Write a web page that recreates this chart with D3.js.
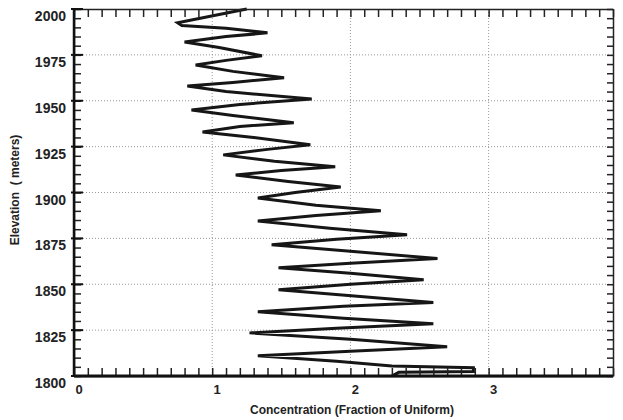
<!DOCTYPE html>
<html>
<head>
<meta charset="utf-8">
<script src="https://cdn.jsdelivr.net/npm/d3@7"></script>
<style>
  body { margin: 0; background: #fff; }
  svg { display: block; }
  .lbl { font-family: "Liberation Sans Narrow", "Liberation Sans", Arial, sans-serif; font-weight: bold; fill: #222; }
</style>
</head>
<body>
<div id="chart"></div>
<script>
// concentration profile, top to bottom
const elevation = [2000, 1997, 1992.5, 1991, 1989.5, 1987, 1985, 1982, 1979, 1974.5,
  1972, 1969.5, 1966, 1962.5, 1960, 1958, 1955, 1951, 1948, 1945,
  1942, 1938, 1936, 1933, 1930, 1926, 1923.5, 1920.5, 1917, 1914,
  1912, 1909.5, 1906, 1903, 1900, 1897, 1893, 1890, 1887.5, 1884.5,
  1880.5, 1877, 1874.5, 1871.5, 1868, 1864, 1861.5, 1859, 1856, 1852.5,
  1850, 1847, 1843.5, 1840, 1838, 1835, 1831.5, 1828.5, 1826, 1823.5,
  1820, 1816, 1813.5, 1811, 1808, 1805.5, 1804.5, 1802.5, 1802, 1800];
const concentration = [1.25, 1.05, 0.75, 0.78, 1.10, 1.40, 1.10, 0.80, 1.05, 1.36,
  1.10, 0.88, 1.15, 1.52, 1.15, 0.82, 1.10, 1.72, 1.20, 0.85,
  1.15, 1.59, 1.20, 0.93, 1.30, 1.71, 1.40, 1.08, 1.45, 1.89,
  1.50, 1.17, 1.55, 1.93, 1.60, 1.33, 1.75, 2.22, 1.75, 1.33,
  1.85, 2.41, 1.90, 1.43, 2.00, 2.63, 2.00, 1.48, 2.00, 2.53,
  2.00, 1.48, 2.05, 2.60, 1.95, 1.33, 1.95, 2.60, 1.90, 1.27,
  2.00, 2.70, 2.00, 1.33, 1.90, 2.30, 2.89, 2.89, 2.35, 2.30];

const xMajor = [0, 1, 2, 3];
const yMajor = [1800, 1825, 1850, 1875, 1900, 1925, 1950, 1975, 2000];

const width = 623, height = 420;
const margin = {top: 9, right: 10, bottom: 44, left: 74};

const svg = d3.select("#chart").append("svg")
  .attr("width", width).attr("height", height);

const x = d3.scaleLinear().domain([0, 3.9]).range([margin.left, width - margin.right]);
const y = d3.scaleLinear().domain([1800, 2000]).range([height - margin.bottom, margin.top]);

// dotted grid
const grid = svg.append("g").attr("stroke", "#999").attr("stroke-width", 1)
  .attr("stroke-dasharray", "1,2");
grid.selectAll("line.h").data(yMajor.slice(1, -1)).enter().append("line")
  .attr("x1", x(0)).attr("x2", x(3.9)).attr("y1", d => y(d)).attr("y2", d => y(d));
grid.selectAll("line.v").data(xMajor.slice(1)).enter().append("line")
  .attr("y1", y(1800)).attr("y2", y(2000)).attr("x1", d => x(d)).attr("x2", d => x(d));

// profile line
const pts = elevation.map((e, i) => [concentration[i], e]);
svg.append("path").datum(pts)
  .attr("fill", "none").attr("stroke", "#161616").attr("stroke-width", 3)
  .attr("stroke-linejoin", "miter")
  .attr("d", d3.line().x(d => x(d[0])).y(d => y(d[1])));

// frame ticks (inward)
const xTicks = d3.range(0, 40).map(i => i / 10);
const yTicks = d3.range(1800, 2001, 5);

function noLabel(ax) { return ax.tickFormat("").tickSizeOuter(0); }

svg.append("g").attr("transform", `translate(0,${y(1800)})`)
  .call(noLabel(d3.axisBottom(x).tickValues(xTicks).tickSizeInner(-8)));
svg.append("g").attr("transform", `translate(0,${y(2000)})`)
  .call(noLabel(d3.axisTop(x).tickValues(xTicks).tickSizeInner(-8)));
svg.append("g").attr("transform", `translate(${x(0)},0)`)
  .call(noLabel(d3.axisLeft(y).tickValues(yTicks).tickSizeInner(-7)));
svg.append("g").attr("transform", `translate(${x(3.9)},0)`)
  .call(noLabel(d3.axisRight(y).tickValues(yTicks).tickSizeInner(-6)));

svg.selectAll(".domain").attr("stroke", "#222").attr("stroke-width", 1.5);
svg.selectAll(".tick line").attr("stroke", "#222").attr("stroke-width", 1.5);

// heavier left and bottom edges
svg.append("line").attr("x1", x(0)).attr("x2", x(3.9)).attr("y1", y(1800)).attr("y2", y(1800))
  .attr("stroke", "#111").attr("stroke-width", 3);
svg.append("line").attr("x1", x(0)).attr("x2", x(0)).attr("y1", y(1800)).attr("y2", y(2000))
  .attr("stroke", "#111").attr("stroke-width", 2.5);
// major tick stubs on the left, poking out a little
svg.selectAll("line.ymaj").data(yMajor).enter().append("line")
  .attr("x1", x(0) - 3).attr("x2", x(0) + 9).attr("y1", d => y(d)).attr("y2", d => y(d))
  .attr("stroke", "#111").attr("stroke-width", 2);

// tick labels
svg.selectAll("text.ylab").data(yMajor).enter().append("text")
  .attr("class", "lbl").attr("x", x(0) - 8).attr("y", d => y(d) + 12)
  .attr("text-anchor", "end").attr("font-size", 14).text(d => d);
svg.selectAll("text.xlab").data(xMajor).enter().append("text")
  .attr("class", "lbl").attr("x", d => x(d) + 5).attr("y", y(1800) + 18)
  .attr("text-anchor", "middle").attr("font-size", 13).text(d => d);

// axis titles
svg.append("text").attr("class", "lbl").attr("font-size", 12)
  .attr("x", 352).attr("y", 414).attr("text-anchor", "middle")
  .text("Concentration (Fraction of Uniform)");
svg.append("text").attr("class", "lbl").attr("font-size", 12)
  .attr("transform", "translate(19,190) rotate(-90)").attr("text-anchor", "middle")
  .attr("xml:space", "preserve")
  .text("Elevation  ( meters)");
</script>
</body>
</html>
